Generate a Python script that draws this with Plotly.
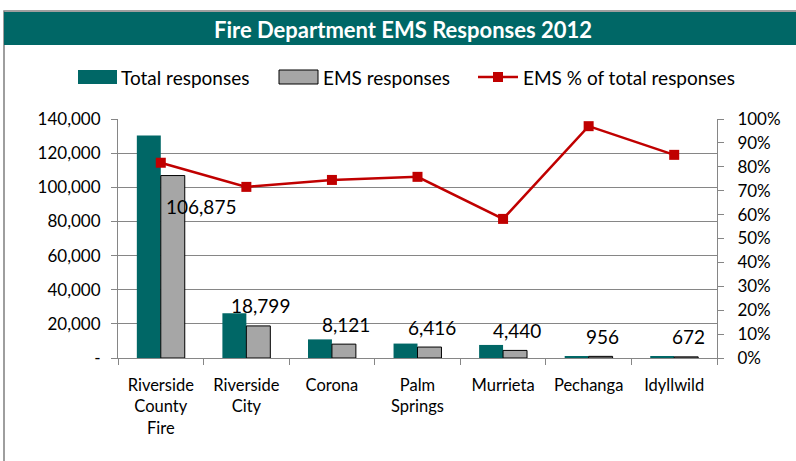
import plotly.graph_objects as go

categories = ["Riverside<br>County<br>Fire", "Riverside<br>City", "Corona", "Palm<br>Springs",
              "Murrieta", "Pechanga", "Idyllwild"]
total_responses = [130300, 26200, 10900, 8450, 7650, 985, 790]
ems_responses = [106875, 18799, 8121, 6416, 4440, 956, 672]
ems_pct = [0.817, 0.716, 0.745, 0.758, 0.582, 0.97, 0.85]
ems_labels = ["106,875", "18,799", "8,121", "6,416", "4,440", "956", "672"]

left_ticks = [0, 20000, 40000, 60000, 80000, 100000, 120000, 140000]
left_ticktext = ["-", "20,000", "40,000", "60,000", "80,000", "100,000", "120,000", "140,000"]

legend_names = ["Total responses", "EMS responses", "EMS % of total responses"]

TEAL = "#006766"
GRAY = "#A6A6A6"
RED = "#C00000"
FONT = "Lato"

W, H = 796, 461
L, R, T, B = 118, 79, 119, 103
PW, PH = W - L - R, H - T - B

def px_x(x):
    return (x - L) / PW

def px_y(y):
    return (H - B - y) / PH

fig = go.Figure()
fig.add_trace(go.Bar(x=categories, y=total_responses, name=legend_names[0],
                     marker=dict(color=TEAL, line=dict(width=0))))
fig.add_trace(go.Bar(x=categories, y=ems_responses, name=legend_names[1],
                     marker=dict(color=GRAY, line=dict(color="#000000", width=1))))
fig.add_trace(go.Scatter(x=categories, y=ems_pct, name=legend_names[2], yaxis="y2",
                         mode="lines+markers", line=dict(color=RED, width=2.5),
                         marker=dict(symbol="square", size=10, color=RED)))

for i, (c, v, t) in enumerate(zip(categories, ems_responses, ems_labels)):
    if i == 0:
        xs, ys = 40, -31
    else:
        xs, ys = 14, 20
    fig.add_annotation(x=c, y=v, text=t, showarrow=False, xshift=xs, yshift=ys,
                       font=dict(family=FONT, size=19, color="#000000"))

# chart border and title band
fig.add_shape(type="rect", xref="paper", yref="paper",
              x0=px_x(4), x1=px_x(800), y0=px_y(470), y1=px_y(11),
              line=dict(color="#7F7F7F", width=1.5), fillcolor="rgba(0,0,0,0)", layer="below")
fig.add_shape(type="rect", xref="paper", yref="paper",
              x0=px_x(4), x1=px_x(800), y0=px_y(45), y1=px_y(12),
              line=dict(width=0), fillcolor=TEAL, layer="below")
fig.add_annotation(xref="paper", yref="paper", x=px_x(403), y=px_y(29),
                   text="<b>Fire Department EMS Responses 2012</b>", showarrow=False,
                   font=dict(family=FONT, size=22, color="#FFFFFF"), xanchor="center", yanchor="middle")

# custom legend
LY = 77
fig.add_shape(type="rect", xref="paper", yref="paper",
              x0=px_x(78), x1=px_x(117), y0=px_y(84), y1=px_y(70),
              line=dict(width=0), fillcolor=TEAL)
fig.add_shape(type="rect", xref="paper", yref="paper",
              x0=px_x(279), x1=px_x(318), y0=px_y(84), y1=px_y(70),
              line=dict(color="#000000", width=1), fillcolor=GRAY)
fig.add_shape(type="line", xref="paper", yref="paper",
              x0=px_x(478), x1=px_x(518), y0=px_y(LY), y1=px_y(LY),
              line=dict(color=RED, width=2.5))
fig.add_shape(type="rect", xref="paper", yref="paper",
              x0=px_x(493), x1=px_x(503), y0=px_y(LY + 5), y1=px_y(LY - 5),
              line=dict(width=0), fillcolor=RED)
for name, lx in zip(legend_names, [119, 321, 521]):
    fig.add_annotation(xref="paper", yref="paper", x=px_x(lx), y=px_y(LY), text=name,
                       showarrow=False, xanchor="left", yanchor="middle",
                       font=dict(family=FONT, size=19, color="#000000"))

fig.update_layout(
    width=W, height=H,
    margin=dict(l=L, r=R, t=T, b=B, autoexpand=False),
    paper_bgcolor="#FFFFFF", plot_bgcolor="#FFFFFF",
    barmode="group", bargap=0.44, bargroupgap=0,
    font=dict(family=FONT, size=16, color="#000000"),
    showlegend=False,
    xaxis=dict(showline=True, linecolor="#868686", linewidth=1, ticks="outside",
               tickson="boundaries", ticklen=6, tickcolor="#868686", ticklabelstandoff=12,
               tickfont=dict(family=FONT, size=16.5), showgrid=False, fixedrange=True),
    yaxis=dict(range=[0, 140000], tickvals=left_ticks, ticktext=left_ticktext,
               showline=True, linecolor="#868686", linewidth=1, ticks="outside", ticklen=6,
               tickcolor="#868686", showgrid=True, gridcolor="#868686", gridwidth=1,
               ticklabelstandoff=7, tickfont=dict(family=FONT, size=17), zeroline=False),
    yaxis2=dict(range=[0, 1], dtick=0.1, tickformat=".0%", overlaying="y", side="right",
                showline=True, linecolor="#868686", linewidth=1, ticks="outside", ticklen=6,
                tickcolor="#868686", showgrid=False, zeroline=False, ticklabelstandoff=10,
                tickfont=dict(family=FONT, size=17)),
)

fig.write_html("out.html", config={"displayModeBar": False},
               post_script="document.body.style.margin='0';")
